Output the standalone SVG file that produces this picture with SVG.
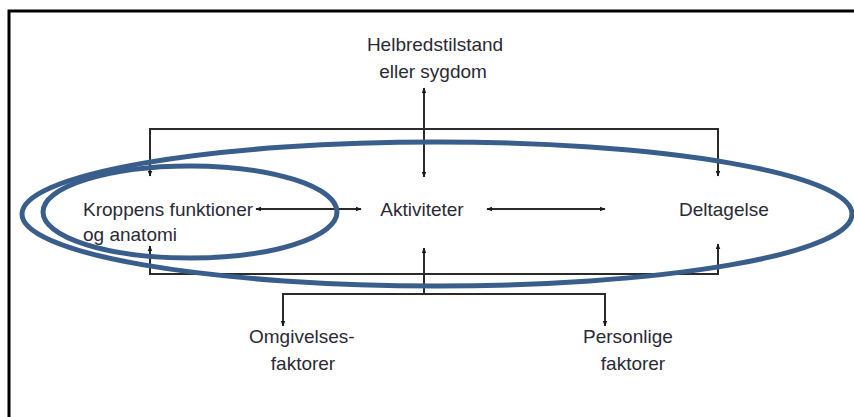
<svg xmlns="http://www.w3.org/2000/svg" width="854" height="417" viewBox="0 0 854 417">
  <defs>
    <marker id="tip" viewBox="0 0 10 10" refX="9" refY="5" markerWidth="6" markerHeight="6" orient="auto-start-reverse" markerUnits="userSpaceOnUse">
      <path d="M0,1 L10,5 L0,9 Z" fill="#1a1a1a"/>
    </marker>
    <style>
      .lbl { font-family: "Liberation Sans", Arial, sans-serif; font-size: 19px; fill: #2a2a35; }
      .wire { fill: none; stroke: #2b2b2b; stroke-width: 2; }
      .ring { fill: none; stroke: #3a5e8c; stroke-width: 5; }
    </style>
  </defs>

  <rect width="854" height="417" fill="#ffffff"/>
  <!-- outer frame (runs off the right and bottom edges) -->
  <path d="M9,420 L9,11 L860,11" fill="none" stroke="#000" stroke-width="3"/>

  <g id="connectors">
    <!-- health condition -->
    <line class="wire" x1="424" y1="88" x2="424" y2="129" marker-start="url(#tip)"/>
    <line class="wire" x1="424" y1="129" x2="424" y2="177" marker-end="url(#tip)"/>
    <!-- upper bracket -->
    <polyline class="wire" points="150,176 150,129 718,129 718,176" marker-start="url(#tip)" marker-end="url(#tip)"/>
    <!-- lower bracket -->
    <polyline class="wire" points="150,246 150,274 718,274 718,244" marker-start="url(#tip)" marker-end="url(#tip)"/>
    <line class="wire" x1="424" y1="294" x2="424" y2="248" marker-end="url(#tip)"/>
    <!-- contextual factors -->
    <polyline class="wire" points="283,326 283,294 605,294 605,326" marker-start="url(#tip)" marker-end="url(#tip)"/>
    <!-- horizontal links -->
    <line class="wire" x1="256" y1="209" x2="361" y2="209" marker-start="url(#tip)" marker-end="url(#tip)"/>
    <line class="wire" x1="487" y1="209" x2="605" y2="209" marker-start="url(#tip)" marker-end="url(#tip)"/>
  </g>

  <g id="health">
    <text class="lbl" x="435" y="51" text-anchor="middle">Helbredstilstand</text>
    <text class="lbl" x="433" y="78" text-anchor="middle">eller sygdom</text>
  </g>
  <g id="body">
    <text class="lbl" x="83" y="216">Kroppens funktioner</text>
    <text class="lbl" x="83" y="241">og anatomi</text>
  </g>
  <g id="activities">
    <text class="lbl" x="422" y="216" text-anchor="middle">Aktiviteter</text>
  </g>
  <g id="participation">
    <text class="lbl" x="679" y="216">Deltagelse</text>
  </g>
  <g id="environment">
    <text class="lbl" x="249" y="343">Omgivelses-</text>
    <text class="lbl" x="303" y="370" text-anchor="middle">faktorer</text>
  </g>
  <g id="personal">
    <text class="lbl" x="583" y="343">Personlige</text>
    <text class="lbl" x="633" y="370" text-anchor="middle">faktorer</text>
  </g>

  <!-- highlight rings -->
  <g id="rings">
    <ellipse class="ring" cx="437" cy="214" rx="415" ry="72"/>
    <ellipse class="ring" cx="190" cy="212" rx="147" ry="46"/>
  </g>
</svg>
